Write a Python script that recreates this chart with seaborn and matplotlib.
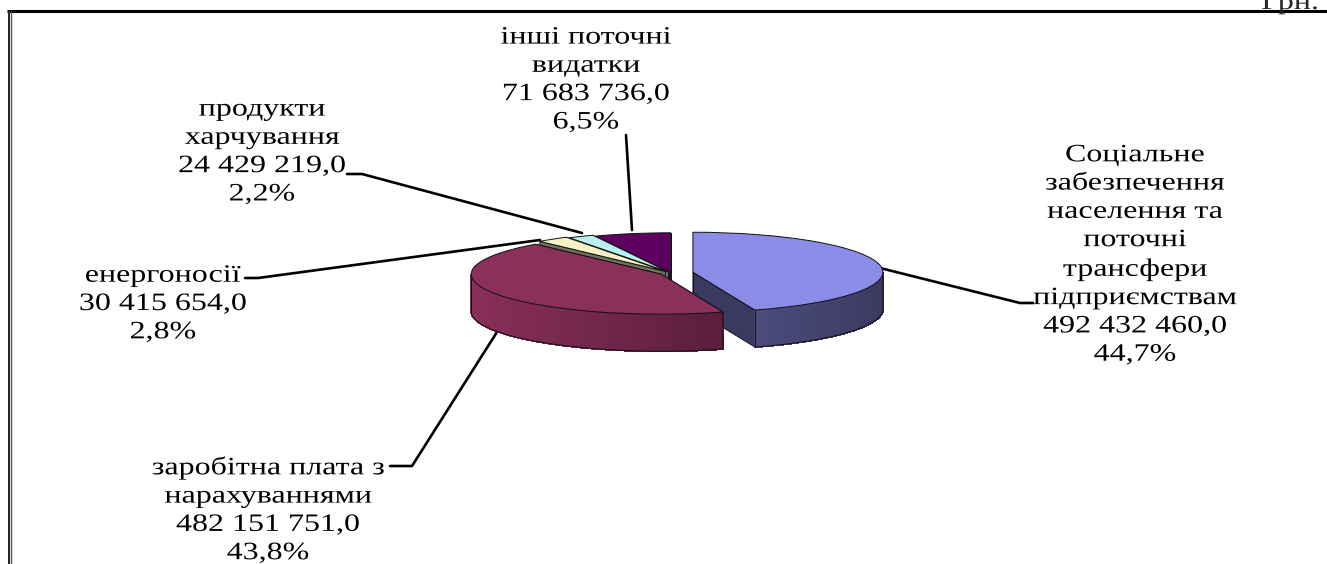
import numpy as np
import matplotlib
matplotlib.use('Agg')
import matplotlib.pyplot as plt
import matplotlib.patheffects as pe
from matplotlib.colors import to_rgb
from matplotlib.patches import Polygon
from matplotlib.transforms import Affine2D
import seaborn as sns

# дані діаграми
labels = ['Соціальне\nзабезпечення\nнаселення та\nпоточні\nтрансфери\nпідприємствам\n492 432 460,0\n44,7%',
          'заробітна плата з\nнарахуваннями\n482 151 751,0\n43,8%',
          'енергоносії\n30 415 654,0\n2,8%',
          'продукти\nхарчування\n24 429 219,0\n2,2%',
          'інші поточні\nвидатки\n71 683 736,0\n6,5%']
values = [492432460.0, 482151751.0, 30415654.0, 24429219.0, 71683736.0]
explode = [0.117, 0.06, 0.05, 0.03, 0.005]
top_colors = ['#8B8BE8', '#8B2F5B', '#F6F4C4', '#B9F1F1', '#5E0060']
wall_light = ['#4C4C7E', '#8A2F5A', '#70705A', '#5F7C7C', '#30002F']
wall_dark = ['#3A3A60', '#5A1E3C', '#70705A', '#5F7C7C', '#30002F']
# порядок малювання: задні сектори спочатку
draw_order = [4, 3, 2, 0, 1]

W, H = 1327, 564
cx, cy, rx, ry = 671, 273, 190, 40
depth = 37 / ry


class WideText(pe.AbstractPathEffect):
    # у оригіналі шрифт розтягнутий по ширині
    def __init__(self, sx):
        super().__init__()
        self.sx = sx

    def draw_path(self, renderer, gc, tpath, affine, rgbFace=None):
        ext = tpath.get_extents()
        xc = (ext.x0 + ext.x1) / 2
        stretch = Affine2D().translate(-xc, 0).scale(self.sx, 1).translate(xc, 0)
        renderer.draw_path(gc, tpath, stretch + affine, rgbFace)


sns.set_theme(style='white')
plt.rcParams['font.family'] = ['Liberation Serif', 'DejaVu Serif']

fig = plt.figure(figsize=(W / 100, H / 100), dpi=100, facecolor='white')

# шар у пікселях: рамка, підписи, виноски
over = fig.add_axes([0, 0, 1, 1])
over.set_xlim(0, W)
over.set_ylim(H, 0)
over.axis('off')

over.text(1290, 9, 'Грн.', ha='center', va='baseline', fontsize=18,
          path_effects=[WideText(1.28)])
over.plot([7, W], [11, 11], color='black', lw=2.2, solid_capstyle='butt')
over.plot([8.5, 8.5], [11, H], color='#222222', lw=1.4)
over.plot([10.8, 10.8], [11, H], color='#555555', lw=1.0)

leaders = [[(880, 268), (1020, 303), (1033, 303)],
           [(497, 332), (412, 466), (390, 466)],
           [(540, 240), (258, 278), (245, 278)],
           [(582, 233), (362, 174), (347, 174)],
           [(632, 230), (626, 135)]]
label_pos = [(1135, 255), (268, 510), (163, 304), (262, 152), (586, 80)]
for pts, (lx, ly), txt in zip(leaders, label_pos, labels):
    xs, ys = zip(*pts)
    over.plot(xs, ys, color='black', lw=1.9)
    over.text(lx, ly, txt, ha='center', va='center', fontsize=18,
              linespacing=1.37, color='black', path_effects=[WideText(1.28)])

# сам пиріг
ax = fig.add_axes([0, 0, 1, 1])
ax.patch.set_alpha(0)
wedges, _ = ax.pie(values, explode=explode, colors=sns.color_palette(top_colors),
                   startangle=90, counterclock=False, radius=1,
                   wedgeprops={'edgecolor': '#111111', 'linewidth': 0.7})
ax.set_aspect('auto')
ax.set_xlim(-cx / rx, (W - cx) / rx)
ax.set_ylim((cy - H) / ry, cy / ry)


def point(w, a):
    t = np.deg2rad(a)
    return w.center[0] + w.r * np.cos(t), w.center[1] + w.r * np.sin(t)


for z, i in enumerate(draw_order):
    w = wedges[i]
    w.set_zorder(2 * z + 1.5)
    # радіальні грані
    for a in (w.theta1, w.theta2):
        x1, y1 = point(w, a)
        x0, y0 = w.center
        ax.add_patch(Polygon([(x0, y0), (x1, y1), (x1, y1 - depth), (x0, y0 - depth)],
                             facecolor=wall_dark[i], edgecolor='#111111', lw=0.6,
                             zorder=2 * z + 1))
    # бічна дуга з градієнтом
    ts = np.linspace(w.theta1, w.theta2, 160)
    ts = ts[np.sin(np.deg2rad(ts)) <= 0]
    if len(ts) < 2:
        continue
    px, py = point(w, ts)
    light, dark = np.array(to_rgb(wall_light[i])), np.array(to_rgb(wall_dark[i]))
    for k in range(len(ts) - 1):
        f = (px[k] - px.min()) / (px.max() - px.min())
        c = light + (dark - light) * f
        ax.add_patch(Polygon([(px[k], py[k]), (px[k + 1], py[k + 1]),
                              (px[k + 1], py[k + 1] - depth), (px[k], py[k] - depth)],
                             facecolor=c, edgecolor=c, lw=0.8, antialiased=False,
                             zorder=2 * z + 1.1))
    outline = list(zip(px, py - depth)) + [(px[-1], py[-1])]
    ax.plot(*zip(*outline), color='#111111', lw=0.7, zorder=2 * z + 1.2)
    ax.plot([px[0], px[0]], [py[0], py[0] - depth], color='#111111', lw=0.7, zorder=2 * z + 1.2)

fig.savefig('out.png', dpi=100)
